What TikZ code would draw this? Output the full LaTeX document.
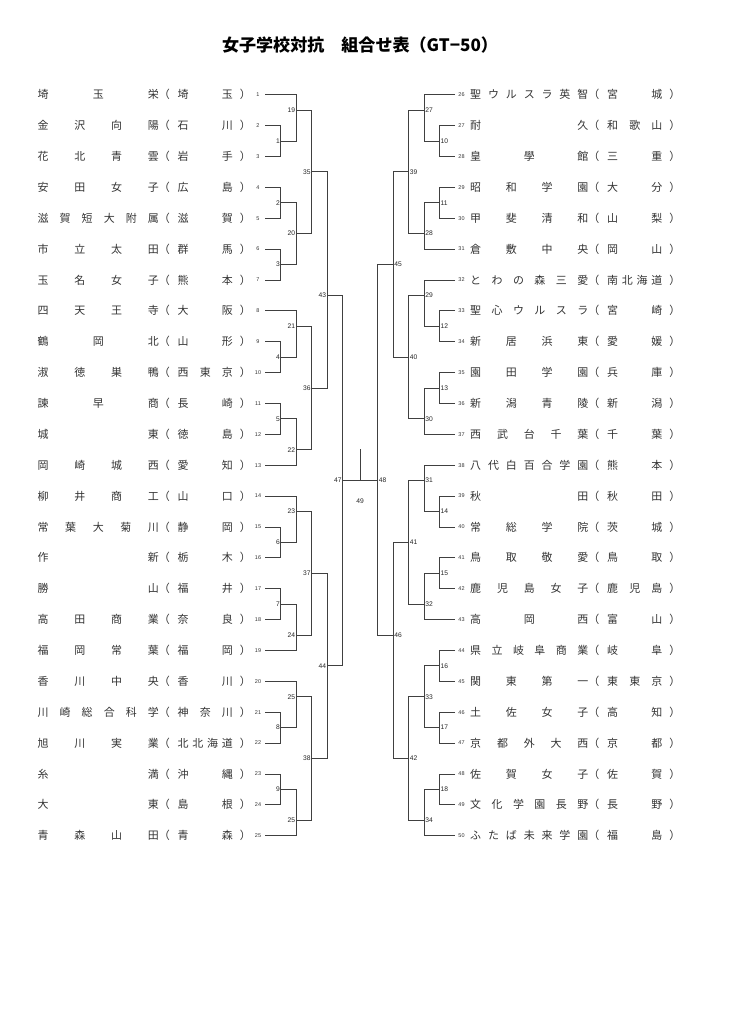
\documentclass[tikz,border=0pt]{standalone}
\usepackage{fontspec}
\setmainfont{Noto Sans CJK JP}
\newfontfamily\numfont{Liberation Sans}
\usetikzlibrary{positioning}

\newlength\px
\setlength\px{0.28846mm}

\ExplSyntaxOn
\NewDocumentCommand\spreadchars{m}{
  \tl_set:Nx \l_tmpa_tl {#1}
  \tl_map_inline:Nn \l_tmpa_tl {##1\hfil}
  \unskip
}
\ExplSyntaxOff

% name field, full-width brackets, prefecture field
\newcommand\teamrow[3]{\makebox[#1\px][s]{\spreadchars{#2}}\makebox[11\px]{（}\hspace{8\px}\makebox[55\px][s]{\spreadchars{#3}}\hspace{7\px}\makebox[11\px]{）}}

\begin{document}
\begin{tikzpicture}[x=0.28846mm, y=-0.28846mm,
		teamname/.style={anchor=west, inner sep=0pt, text height=7.9pt, text depth=1.1pt, text=black!80, font=\fontsize{9pt}{10pt}\selectfont},
		seed/.style={inner sep=0pt, text=black!80, font=\numfont\fontsize{4.5pt}{5pt}\selectfont},
		lmatch/.style={anchor=east, inner sep=0.6pt, text=black!85, font=\numfont\fontsize{5.5pt}{6pt}\selectfont},
		rmatch/.style={lmatch, anchor=west},
		bracket/.style={draw=black!75, line width=0.7pt}
	]
	\useasboundingbox (0,0) rectangle (728,1030);

	\node[font=\bfseries\fontsize{14pt}{16pt}\selectfont] (title) at (360,45) {女子学校対抗　組合せ表（GT−50）};

	% left half
	\foreach \nm/\pf [count=\i] in {埼玉栄/埼玉, 金沢向陽/石川, 花北青雲/岩手, 安田女子/広島, 滋賀短大附属/滋賀, 市立太田/群馬, 玉名女子/熊本, 四天王寺/大阪, 鶴岡北/山形, 淑徳巣鴨/西東京, 諫早商/長崎, 城東/徳島, 岡崎城西/愛知, 柳井商工/山口, 常葉大菊川/静岡, 作新/栃木, 勝山/福井, 高田商業/奈良, 福岡常葉/福岡, 香川中央/香川, 川崎総合科学/神奈川, 旭川実業/北北海道, 糸満/沖縄, 大東/島根, 青森山田/青森}
	{
		\coordinate (t\i) at (265,{94.7+30.875*(\i-1)});
		\node[seed] (s\i) at (258,{94.7+30.875*(\i-1)}) {\i};
		\node[teamname] (team\i) at (37.5,{94.7+30.875*(\i-1)}) {\teamrow{121}{\nm}{\pf}};
	}

	% right half
	\foreach \nm/\pf [count=\i from 26] in {聖ウルスラ英智/宮城, 耐久/和歌山, 皇學館/三重, 昭和学園/大分, 甲斐清和/山梨, 倉敷中央/岡山, とわの森三愛/南北海道, 聖心ウルスラ/宮崎, 新居浜東/愛媛, 園田学園/兵庫, 新潟青陵/新潟, 西武台千葉/千葉, 八代白百合学園/熊本, 秋田/秋田, 常総学院/茨城, 鳥取敬愛/鳥取, 鹿児島女子/鹿児島, 高岡西/富山, 県立岐阜商業/岐阜, 関東第一/東東京, 土佐女子/高知, 京都外大西/京都, 佐賀女子/佐賀, 文化学園長野/長野, ふたば未来学園/福島}
	{
		\coordinate (t\i) at (455,{94.7+30.875*(\i-26)});
		\node[seed] (s\i) at (461.5,{94.7+30.875*(\i-26)}) {\i};
		\node[teamname] (team\i) at (470,{94.7+30.875*(\i-26)}) {\teamrow{118}{\nm}{\pf}};
	}

	% matches: number/x/row/upper/lower/label
	\foreach \m/\x/\rw/\ina/\inb/\lab in {
		1/280.7/1.5/t2/t3/1, 2/280.7/3.5/t4/t5/2, 3/280.7/5.5/t6/t7/3,
		4/280.7/8.5/t9/t10/4, 5/280.7/10.5/t11/t12/5, 6/280.7/14.5/t15/t16/6,
		7/280.7/16.5/t17/t18/7, 8/280.7/20.5/t21/t22/8, 9/280.7/22.5/t23/t24/9,
		19/296.1/0.5/t1/m1/19, 20/296.1/4.5/m2/m3/20, 21/296.1/7.5/t8/m4/21,
		22/296.1/11.5/m5/t13/22, 23/296.1/13.5/t14/m6/23, 24/296.1/17.5/m7/t19/24,
		25/296.1/19.5/t20/m8/25, 26/296.1/23.5/m9/t25/25,
		35/311.6/2.5/m19/m20/35, 36/311.6/9.5/m21/m22/36,
		37/311.6/15.5/m23/m24/37, 38/311.6/21.5/m25/m26/38,
		43/327.1/6.5/m35/m36/43, 44/327.1/18.5/m37/m38/44,
		47/342.6/12.5/m43/m44/47}
	{
		\coordinate (m\m) at (\x,{94.7+30.875*\rw});
		\draw[bracket] (\ina) -| (m\m) |- (\inb);
		\node[lmatch] (l\m) at (m\m) {\lab};
	}

	\foreach \m/\x/\rw/\ina/\inb/\lab in {
		10/439.7/1.5/t27/t28/10, 11/439.7/3.5/t29/t30/11, 12/439.7/7.5/t33/t34/12,
		13/439.7/9.5/t35/t36/13, 14/439.7/13.5/t39/t40/14, 15/439.7/15.5/t41/t42/15,
		16/439.7/18.5/t44/t45/16, 17/439.7/20.5/t46/t47/17, 18/439.7/22.5/t48/t49/18,
		27/424.3/0.5/t26/m10/27, 28/424.3/4.5/m11/t31/28, 29/424.3/6.5/t32/m12/29,
		30/424.3/10.5/m13/t37/30, 31/424.3/12.5/t38/m14/31, 32/424.3/16.5/m15/t43/32,
		33/424.3/19.5/m16/m17/33, 34/424.3/23.5/m18/t50/34,
		39/408.8/2.5/m27/m28/39, 40/408.8/8.5/m29/m30/40,
		41/408.8/14.5/m31/m32/41, 42/408.8/21.5/m33/m34/42,
		45/393.3/5.5/m39/m40/45, 46/393.3/17.5/m41/m42/46,
		48/377.8/12.5/m45/m46/48}
	{
		\coordinate (m\m) at (\x,{94.7+30.875*\rw});
		\draw[bracket] (\ina) -| (m\m) |- (\inb);
		\node[rmatch] (l\m) at (m\m) {\lab};
	}

	% final
	\coordinate (m49) at (360.2,{94.7+30.875*12.5});
	\coordinate (win) at (360.2,449.3);
	\draw[bracket] (m47) -- (m48);
	\draw[bracket] (m49) -- (win);
	\node[lmatch, anchor=center] (l49) at (360.2,500.7) {49};

\end{tikzpicture}
\end{document}
